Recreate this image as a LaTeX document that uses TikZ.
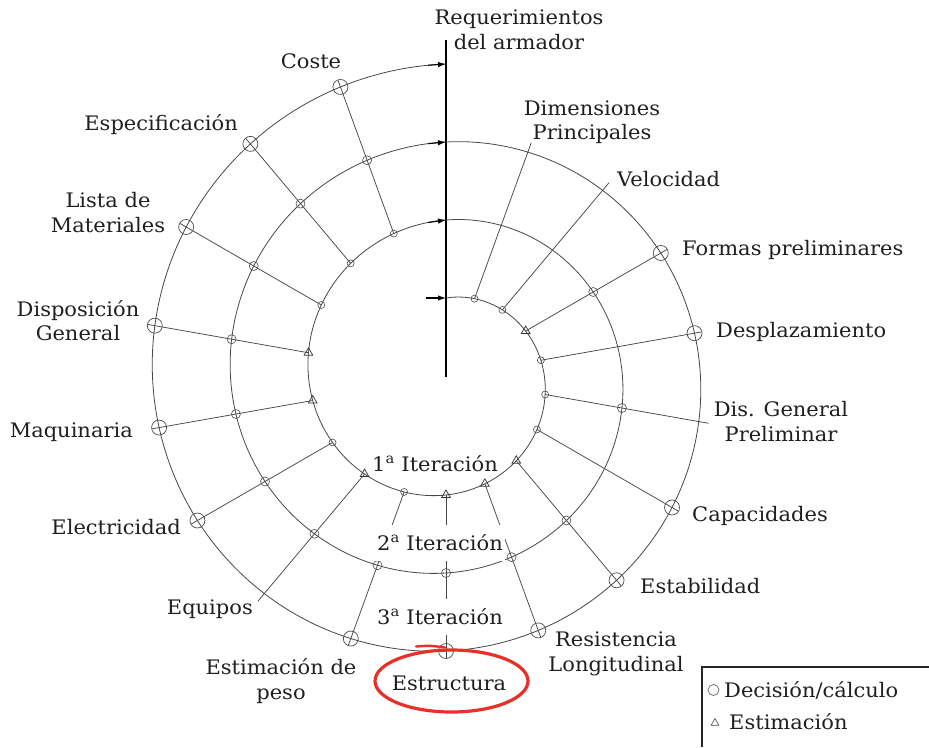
\documentclass[tikz,border=0pt]{standalone}
\usepackage{fontspec}
\setmainfont{DejaVu Serif}[FakeStretch=1.05]
\usetikzlibrary{arrows.meta,shapes.geometric}
\definecolor{hlred}{RGB}{232,48,40}
\begin{document}
\begin{tikzpicture}[x=1pt,y=-1pt,
  spiral/.style={draw=black!72, line width=0.8pt},
  spoke/.style={draw=black!72, line width=0.75pt},
  axis/.style={draw=black, line width=1.4pt},
  flow/.style={draw=black, line width=1.1pt, -{Latex[length=8pt,width=5.5pt]}},
  lbl/.style={font=\fontsize{20}{24.5}\selectfont, text=black!88, inner sep=0pt, align=center},
  iter/.style={lbl, fill=white, inner xsep=2pt, minimum height=36pt},
  mk1/.style={circle, draw=black!70, line width=0.6pt, inner sep=0pt, minimum size=7pt},
  mk2/.style={circle, draw=black!70, line width=0.6pt, inner sep=0pt, minimum size=9pt},
  mk3/.style={circle, draw=black!70, line width=0.7pt, inner sep=0pt, minimum size=15pt},
  mktri/.style={regular polygon, regular polygon sides=3, draw=black!80, line width=0.7pt, inner sep=0pt, minimum size=10pt},
  legbox/.style={draw=black!85, line width=1.3pt}]
\useasboundingbox (0,0) rectangle (929,747);

% centre of the spiral and the vertical reference line
\coordinate (c) at (446,377);
\coordinate (axtop) at (446,40);
\draw[axis] (axtop) -- (c);

% Archimedean spiral: three turns, radius grows 78 per turn
\draw[spiral] plot[domain=0:1080, samples=541, smooth]
  ({446+(79+0.216667*\x)*sin(\x)}, {377-(79+0.216667*\x)*cos(\x)});

% entry arrow and direction arrows where the spiral meets the axis
\coordinate (fa0) at (426,298);
\coordinate (fb0) at (446,298);
\draw[flow] (fa0) -- (fb0);
\foreach \k in {1,2,3} {
  \pgfmathsetmacro\rk{79+78*\k}
  \pgfmathsetmacro\d{360*\k-18/\rk*57.2958}
  \coordinate (fa\k) at ({446+(79+0.216667*\d)*sin(\d)}, {377-(79+0.216667*\d)*cos(\d)});
  \coordinate (fb\k) at (446,{377-\rk});
  \draw[flow] (fa\k) -- (fb\k);
}

% spokes: angle / mark on turn 1 (1 circle, 2 triangle) / turn 2 / turn 3
\foreach \a/\ma/\mb/\mc in {20/1/0/0, 40/1/0/0, 60/2/1/1, 80/1/0/1, 100/1/1/0,
    120/1/0/1, 140/2/1/1, 160/2/1/1, 180/2/1/1, 200/1/1/1, 220/2/1/0,
    240/1/1/1, 260/2/1/1, 280/2/1/1, 300/1/1/1, 320/1/1/1, 340/1/1/1} {
  \pgfmathsetmacro\ra{79+0.216667*\a}
  \pgfmathsetmacro\rb{157+0.216667*\a}
  \pgfmathsetmacro\rc{235+0.216667*\a}
  \pgfmathsetmacro\re{\rc+10-3*\mc}
  \coordinate (p\a-1) at ({446+\ra*sin(\a)},{377-\ra*cos(\a)});
  \coordinate (p\a-2) at ({446+\rb*sin(\a)},{377-\rb*cos(\a)});
  \coordinate (p\a-3) at ({446+\rc*sin(\a)},{377-\rc*cos(\a)});
  \coordinate (e\a) at ({446+\re*sin(\a)},{377-\re*cos(\a)});
  \draw[spoke] (p\a-1) -- (e\a);
  \ifnum\ma=1 \node[mk1] (m\a-1) at (p\a-1) {}; \else \node[mktri] (m\a-1) at (p\a-1) {}; \fi
  \ifnum\mb=1 \node[mk2] (m\a-2) at (p\a-2) {}; \fi
  \ifnum\mc=1 \node[mk3] (m\a-3) at (p\a-3) {}; \fi
}

% iteration labels
\node[lbl, anchor=base] (it1) at (435,471) {1\textsuperscript{a} Iteración};
\node[iter] (it2) at (440,542.5) {2\textsuperscript{a} Iteración};
\node[iter] (it3) at (440,616.5) {3\textsuperscript{a} Iteración};

% item labels around the spiral
\node[lbl] (req) at (519,29.75) {Requerimientos\\del armador};
\node[lbl] (dim) at (592,122) {Dimensiones\\Principales};
\node[lbl, anchor=base west] (vel) at (617,186) {Velocidad};
\node[lbl, anchor=base west] (for) at (682,255) {Formas preliminares};
\node[lbl, anchor=base west] (des) at (716,337) {Desplazamiento};
\node[lbl] (dgp) at (781,421.75) {Dis. General\\Preliminar};
\node[lbl, anchor=base west] (cap) at (692,521) {Capacidades};
\node[lbl, anchor=base west] (est) at (640,593) {Estabilidad};
\node[lbl] (res) at (616,654) {Resistencia\\Longitudinal};
\node[lbl, anchor=base] (str) at (449,690) {Estructura};
\node[lbl] (pes) at (281,681) {Estimación de\\peso};
\node[lbl, anchor=base east] (equ) at (253,614) {Equipos};
\node[lbl, anchor=base east] (ele) at (181,534) {Electricidad};
\node[lbl, anchor=base east] (maq) at (133,437) {Maquinaria};
\node[lbl] (dis) at (78,320.75) {Disposición\\General};
\node[lbl] (lis) at (108,212.75) {Lista de\\Materiales};
\node[lbl, anchor=base east] (esp) at (238,130) {Especificación};
\node[lbl, anchor=base] (cos) at (311,68) {Coste};

% hand-drawn highlight round the structure label
\node[ellipse, draw=hlred, line width=3.2pt, minimum width=153pt, minimum height=62pt] (hl) at (451.5,681) {};
\coordinate (hs) at (416,646.5);
\coordinate (he) at (445,647.5);
\draw[hlred, line width=2.4pt, line cap=round] (hs) .. controls (430,645.5) .. (he);

% legend
\coordinate (lgA) at (929,667);
\coordinate (lgB) at (702,747);
\draw[legbox] (lgA) -| (lgB);
\node[circle, draw=black!60, line width=0.7pt, inner sep=0pt, minimum size=11pt] (lgc) at (713.5,690) {};
\node[lbl, anchor=base west] (lg1) at (724,697) {Decisión/cálculo};
\node[regular polygon, regular polygon sides=3, draw=black!70, line width=0.6pt, inner sep=0pt, minimum size=9pt] (lgt) at (715,723) {};
\node[lbl, anchor=base west] (lg2) at (729,729) {Estimación};
\end{tikzpicture}
\end{document}
